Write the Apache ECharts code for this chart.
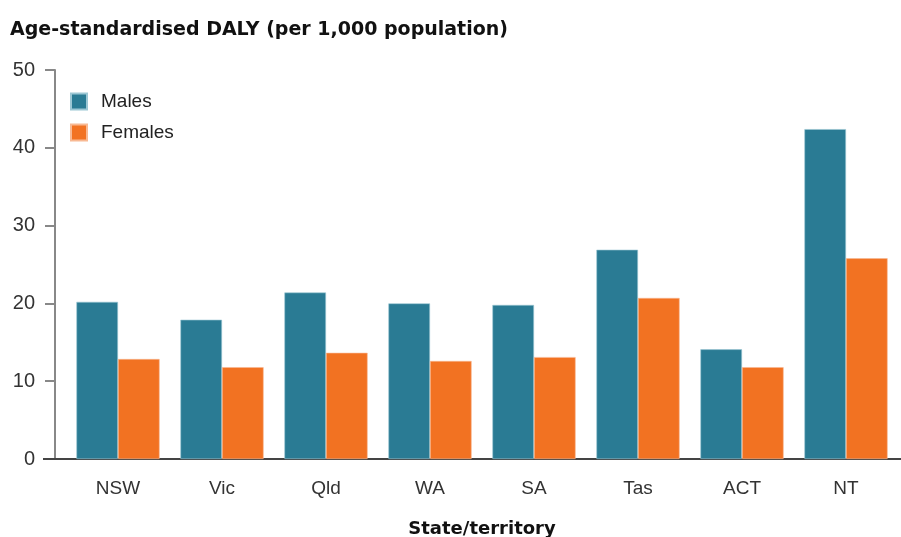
<!DOCTYPE html>
<html>
<head>
<meta charset="utf-8">
<script src="https://cdn.jsdelivr.net/npm/echarts@6/dist/echarts.min.js"></script>
<style>html,body{margin:0;padding:0;background:#fff;}#c{width:901px;height:537px;}</style>
</head>
<body>
<div id="c"></div>
<script>
const categories = ['NSW', 'Vic', 'Qld', 'WA', 'SA', 'Tas', 'ACT', 'NT'];
const males = [20.2, 17.9, 21.4, 20.0, 19.8, 26.9, 14.1, 42.4];
const females = [12.85, 11.8, 13.65, 12.6, 13.1, 20.7, 11.8, 25.8];
const yTicks = [0, 10, 20, 30, 40, 50];

const chart = echarts.init(document.getElementById('c'), null, {renderer: 'canvas'});
const font = 'Liberation Sans, Arial, sans-serif';
const boldFont = 'DejaVu Sans, Verdana, sans-serif';
chart.setOption({
  animation: false,
  title: {
    text: 'Age-standardised DALY (per 1,000 population)',
    left: 5, top: 16,
    textStyle: {fontFamily: boldFont, fontSize: 19, fontWeight: 'bold', color: '#111'}
  },
  legend: {
    orient: 'vertical', left: 70, top: 92, padding: 0,
    itemWidth: 16, itemHeight: 16, itemGap: 12,
    icon: 'rect',
    textStyle: {fontFamily: font, fontSize: 19, color: '#222', lineHeight: 16, padding: [0, 0, 0, 9]},
    data: ['Males', 'Females']
  },
  grid: {left: 66, right: 3, top: 70, bottom: 78, outerBoundsMode: 'none', containLabel: false},
  xAxis: {
    type: 'category', data: categories,
    name: 'State/territory', nameLocation: 'middle', nameGap: 61,
    nameTextStyle: {fontFamily: boldFont, fontSize: 18, fontWeight: 'bold', color: '#111'},
    axisLine: {lineStyle: {color: '#444', width: 2}},
    axisTick: {show: false},
    axisLabel: {fontFamily: font, fontSize: 19, color: '#333', margin: 20}
  },
  yAxis: {
    type: 'value', min: yTicks[0], max: yTicks[yTicks.length - 1], interval: 10,
    offset: 11,
    axisLine: {show: true, lineStyle: {color: '#888', width: 2}},
    axisTick: {show: true, length: 10, lineStyle: {color: '#888', width: 2}},
    splitLine: {show: false},
    axisLabel: {fontFamily: font, fontSize: 20, color: '#333', margin: 20}
  },
  graphic: [
    {type: 'line', shape: {x1: 43, y1: 459, x2: 67, y2: 459}, style: {stroke: '#444', lineWidth: 2}, z: 10},
    {type: 'line', shape: {x1: 896, y1: 459, x2: 901, y2: 459}, style: {stroke: '#444', lineWidth: 2}, z: 10}
  ],
  series: [
    {name: 'Males', type: 'bar', data: males, barGap: '0%', barCategoryGap: '20%',
     itemStyle: {color: '#2a7b94', borderColor: '#9cc7d4', borderWidth: 0.6}},
    {name: 'Females', type: 'bar', data: females,
     itemStyle: {color: '#f27222', borderColor: '#f8b993', borderWidth: 0.6}}
  ]
});
</script>
</body>
</html>
